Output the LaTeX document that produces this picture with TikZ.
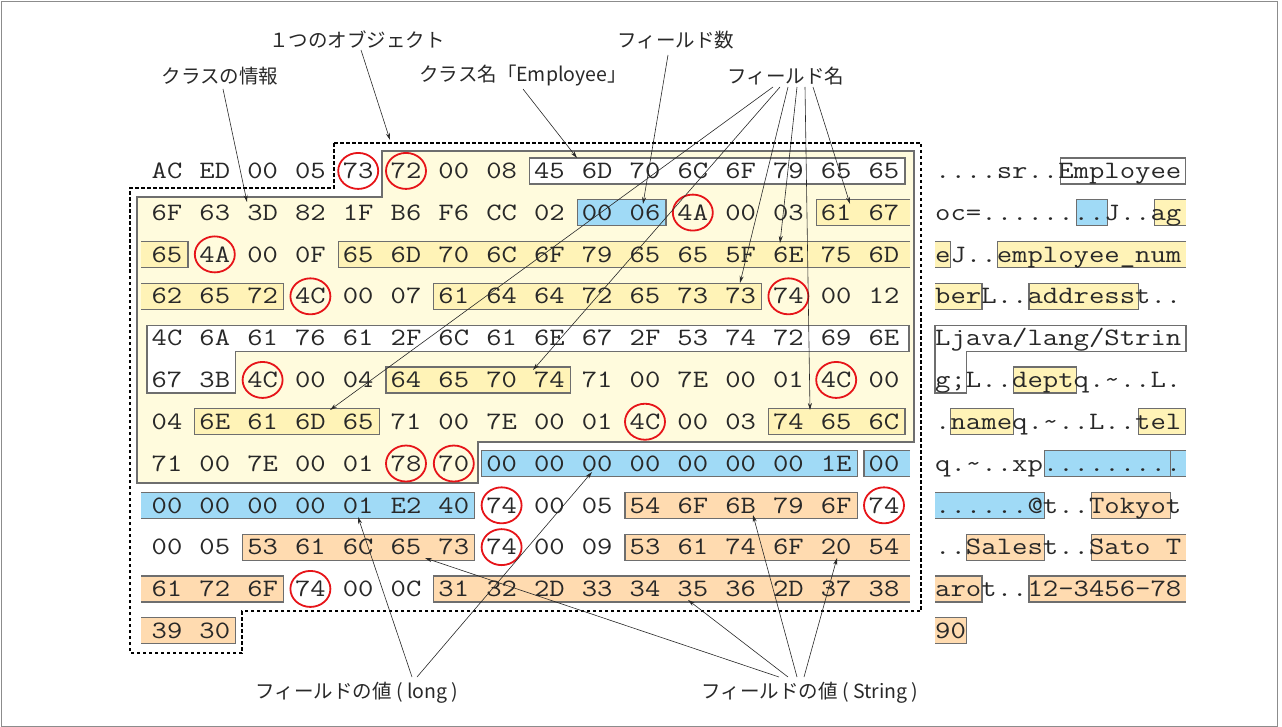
\documentclass[tikz,border=0pt]{standalone}
\usepackage{fontspec}
\usepackage{graphicx}
\newfontfamily\jp{Noto Sans CJK JP}
\usetikzlibrary{arrows.meta}
\definecolor{yreg}{RGB}{255,251,221}
\definecolor{ybox}{RGB}{255,243,183}
\definecolor{bbox}{RGB}{160,218,246}
\definecolor{obox}{RGB}{255,219,176}
\definecolor{bord}{RGB}{110,110,110}
\definecolor{circ}{RGB}{230,20,25}
\definecolor{txt}{RGB}{40,40,40}
\newcommand\hexfont{\fontsize{25}{25}\selectfont\ttfamily}
\newcommand\lblfont{\jp\fontsize{19.5}{22}\selectfont}
\newcommand\sx[1]{\scalebox{1.19}[1]{#1}}
\newcommand\sa[1]{\scalebox{1.195}[1]{#1}}
\newcommand\hlbox[5]{% #1 type C/R/L, #2 row, #3 first col, #4 last col, #5 colour
 \pgfmathsetmacro\xHL{147+47.8*#3}\pgfmathsetmacro\xHR{188+47.8*#4}%
 \pgfmathsetmacro\xAL{935+15.68*#3}\pgfmathsetmacro\xAR{935+15.68*(#4+1)}%
 \pgfmathsetmacro\yBT{158+41.8*#2}\pgfmathsetmacro\yBB{184+41.8*#2}%
 \if#1C
   \draw[bx,fill=#5] (\xHL,\yBT) rectangle (\xHR,\yBB);
   \draw[bx,fill=#5] (\xAL,\yBT) rectangle (\xAR,\yBB);
 \fi
 \if#1R
   \fill[#5] (\xHL,\yBT) rectangle (910,\yBB);
   \draw[bx] (910,\yBT) -- (\xHL,\yBT) -- (\xHL,\yBB) -- (910,\yBB);
   \fill[#5] (\xAL,\yBT) rectangle (1186,\yBB);
   \draw[bx] (1186,\yBT) -- (\xAL,\yBT) -- (\xAL,\yBB) -- (1186,\yBB);
 \fi
 \if#1L
   \fill[#5] (141,\yBT) rectangle (\xHR,\yBB);
   \draw[bx] (141,\yBT) -- (\xHR,\yBT) -- (\xHR,\yBB) -- (141,\yBB);
   \fill[#5] (935,\yBT) rectangle (\xAR,\yBB);
   \draw[bx] (935,\yBT) -- (\xAR,\yBT) -- (\xAR,\yBB) -- (935,\yBB);
 \fi}
\begin{document}
\begin{tikzpicture}[x=1pt,y=-1pt,
  bx/.style={draw=bord,line width=1.2pt},
  hexn/.style={inner sep=0pt,anchor=base,font=\hexfont,text=txt},
  ascn/.style={inner sep=0pt,anchor=base west,font=\hexfont,text=txt},
  rc/.style={draw=circ,line width=1.8pt},
  lbl/.style={inner sep=0pt,font=\lblfont,text=txt},
  arr/.style={line width=0.6pt,draw=txt,-{Stealth[length=7pt,width=4pt]}},
  objb/.style={line width=2pt,dash pattern=on 3.5pt off 2.5pt},
  reg/.style={fill=yreg,draw=bord,line width=1.2pt}]
\useasboundingbox (0,0) rectangle (1282,727);
\draw[line width=0.8pt,draw=black!45] (1,1) rectangle (1277,726);
% yellow region of the class description
\draw[reg] (382,151) -- (914,151) -- (914,442) -- (478,442) -- (478,483) -- (137,483) -- (137,197) -- (382,197) -- cycle;
% highlight boxes
\hlbox{C}{0}{8}{15}{white}
\hlbox{C}{1}{9}{10}{bbox}
\hlbox{R}{1}{14}{15}{ybox}
\hlbox{L}{2}{0}{0}{ybox}
\hlbox{R}{2}{4}{15}{ybox}
\hlbox{L}{3}{0}{2}{ybox}
\hlbox{C}{3}{6}{12}{ybox}
\draw[bx,fill=white] (147,325.2) -- (909,325.2) -- (909,351.2) -- (235.8,351.2) -- (235.8,393) -- (147,393) -- cycle;
\draw[bx,fill=white] (935,325.2) -- (1185.9,325.2) -- (1185.9,351.2) -- (966.4,351.2) -- (966.4,393) -- (935,393) -- cycle;
\hlbox{C}{5}{5}{8}{ybox}
\hlbox{C}{6}{1}{4}{ybox}
\hlbox{C}{6}{13}{15}{ybox}
\hlbox{C}{7}{7}{14}{bbox}
\hlbox{R}{7}{15}{15}{bbox}
\hlbox{L}{8}{0}{6}{bbox}
\hlbox{C}{8}{10}{14}{obox}
\hlbox{C}{9}{2}{6}{obox}
\hlbox{R}{9}{10}{15}{obox}
\hlbox{L}{10}{0}{2}{obox}
\hlbox{R}{10}{6}{15}{obox}
\hlbox{L}{11}{0}{1}{obox}
% one object
\draw[objb] (334,143) -- (921,143) -- (921,611) -- (242,611) -- (242,653) -- (130,653) -- (130,188) -- (334,188) -- cycle;
% hex bytes
\foreach \r/\row in {0/{AC,ED,00,05,73,72,00,08,45,6D,70,6C,6F,79,65,65},
 1/{6F,63,3D,82,1F,B6,F6,CC,02,00,06,4A,00,03,61,67},
 2/{65,4A,00,0F,65,6D,70,6C,6F,79,65,65,5F,6E,75,6D},
 3/{62,65,72,4C,00,07,61,64,64,72,65,73,73,74,00,12},
 4/{4C,6A,61,76,61,2F,6C,61,6E,67,2F,53,74,72,69,6E},
 5/{67,3B,4C,00,04,64,65,70,74,71,00,7E,00,01,4C,00},
 6/{04,6E,61,6D,65,71,00,7E,00,01,4C,00,03,74,65,6C},
 7/{71,00,7E,00,01,78,70,00,00,00,00,00,00,00,1E,00},
 8/{00,00,00,00,01,E2,40,74,00,05,54,6F,6B,79,6F,74},
 9/{00,05,53,61,6C,65,73,74,00,09,53,61,74,6F,20,54},
 10/{61,72,6F,74,00,0C,31,32,2D,33,34,35,36,2D,37,38},
 11/{39,30}}{
  \foreach \b [count=\c from 0] in \row {
    \pgfmathsetmacro\xx{167+47.8*\c}
    \pgfmathsetmacro\yy{178.6+41.8*\r}
    \node[hexn] (h-\r-\c) at (\xx,\yy) {\sx{\b}};
  }
}
% ascii dump
\node[ascn] (a-0) at (935,178.6) {\sa{....sr..Employee}};
\node[ascn] (a-1) at (935,220.4) {\sa{oc=........J..ag}};
\node[ascn] (a-2) at (935,262.2) {\sa{eJ..employee\_num}};
\node[ascn] (a-3) at (935,304.0) {\sa{berL..addresst..}};
\node[ascn] (a-4) at (935,345.8) {\sa{Ljava/lang/Strin}};
\node[ascn] (a-5) at (935,387.6) {\sa{g;L..deptq.\textasciitilde..L.}};
\node[ascn] (a-6) at (935,429.4) {\sa{.nameq.\textasciitilde..L..tel}};
\node[ascn] (a-7) at (935,471.2) {\sa{q.\textasciitilde..xp.........}};
\node[ascn] (a-8) at (935,513.0) {\sa{......@t..Tokyot}};
\node[ascn] (a-9) at (935,554.8) {\sa{..Salest..Sato T}};
\node[ascn] (a-10) at (935,596.6) {\sa{arot..12-3456-78}};
\node[ascn] (a-11) at (935,638.4) {\sa{90}};
% red circles
\foreach \r/\c in {0/4,0/5,1/11,2/1,3/3,3/13,5/2,5/14,6/10,7/5,7/6,8/7,8/15,9/7,10/3}
  \draw[rc] (h-\r-\c.center) ellipse [x radius=20pt, y radius=18pt];
% labels
\node[lbl] (l-obj) at (357,40) {１つのオブジェクト};
\node[lbl] (l-cls) at (220,76) {クラスの情報};
\node[lbl] (l-name) at (523,76) {クラス名「Employee」};
\node[lbl] (l-fc) at (676,40) {フィールド数};
\node[lbl] (l-fn) at (786,76) {フィールド名};
\node[lbl] (l-long) at (357,693) {フィールドの値 ( long )};
\node[lbl] (l-str) at (810,693) {フィールドの値 ( String )};
% connector ends
\coordinate (s-cls) at (223,89);  \coordinate (t-cls) at (247,202);
\coordinate (s-obj) at (361,50);  \coordinate (t-obj) at (390,140);
\coordinate (s-name) at (523,89); \coordinate (t-name) at (577,158);
\coordinate (s-fc) at (668,55);   \coordinate (t-fc) at (643,204);
\coordinate (s-fn1) at (773,87);  \coordinate (t-fn1) at (330,410);
\coordinate (s-fn2) at (780,87);  \coordinate (t-fn2) at (533,370);
\coordinate (s-fn3) at (788,87);  \coordinate (t-fn3) at (740,283);
\coordinate (s-fn4) at (797,87);  \coordinate (t-fn4) at (780,243);
\coordinate (s-fn5) at (805,87);  \coordinate (t-fn5) at (810,410);
\coordinate (s-fn6) at (813,87);  \coordinate (t-fn6) at (850,204);
\coordinate (s-lg1) at (412,677); \coordinate (t-lg1) at (358,517);
\coordinate (s-lg2) at (417,677); \coordinate (t-lg2) at (592,472);
\coordinate (s-st1) at (779,677); \coordinate (t-st1) at (425,558);
\coordinate (s-st2) at (788,677); \coordinate (t-st2) at (688,600);
\coordinate (s-st3) at (797,677); \coordinate (t-st3) at (753,515);
\coordinate (s-st4) at (804,677); \coordinate (t-st4) at (837,558);
\foreach \n in {cls,obj,name,fc,fn1,fn2,fn3,fn4,fn5,fn6,lg1,lg2,st1,st2,st3,st4}
  \draw[arr] (s-\n) -- (t-\n);
\end{tikzpicture}
\end{document}
